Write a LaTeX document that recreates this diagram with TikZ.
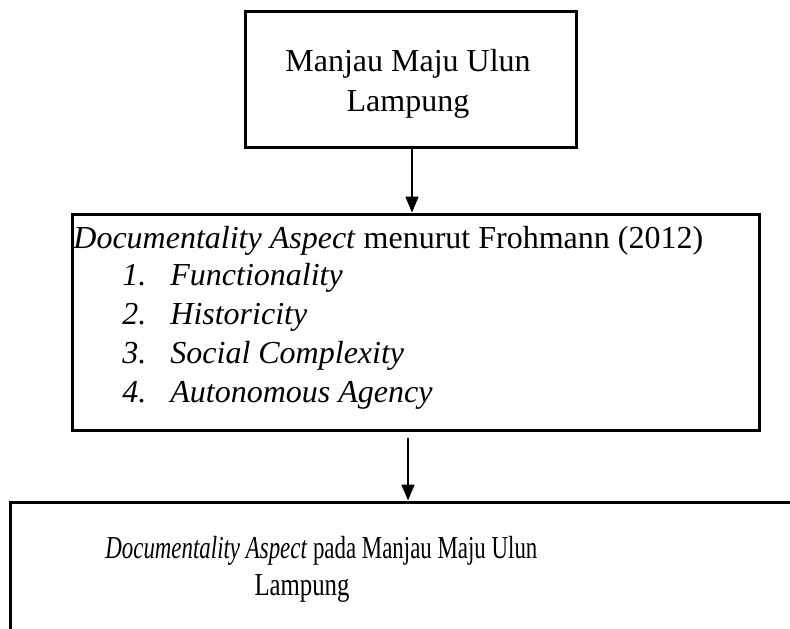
\documentclass[tikz,border=0pt]{standalone}
\usepackage{fontspec}
\usepackage{graphicx}
\setmainfont{Liberation Serif}
\usetikzlibrary{arrows.meta}
\tikzset{
  box/.style={draw, line width=1.5pt, rectangle, inner sep=0pt},
  arr/.style={line width=0.8pt, -{Triangle[width=6.5pt,length=8pt]}},
  txt/.style={inner sep=0pt, font=\fontsize{16}{19}\selectfont},
}
\begin{document}
\begin{tikzpicture}[x=0.5pt,y=-0.5pt]
\useasboundingbox (0,0) rectangle (790,628);
\clip (0,0) rectangle (790,628);
% boxes
\node[box, minimum width=165.5pt, minimum height=68pt] (b1) at (410.5,79) {};
\node[box, minimum width=343.5pt, minimum height=108pt] (b2) at (415.5,322) {};
\node[box, minimum width=445pt, minimum height=99pt] (b3) at (455,601) {};
% texts box 1
\node[txt, anchor=base] (t1a) at (408,71) {Manjau Maju Ulun};
\node[txt, anchor=base] (t1b) at (408,111) {Lampung};
% texts box 2
\node[txt, anchor=base west] (t2) at (73,248) {\textit{Documentality Aspect} menurut Frohmann (2012)};
\node[txt, anchor=base west] (n1) at (122,285) {\textit{1.}};
\node[txt, anchor=base west] (i1) at (170,285) {\textit{Functionality}};
\node[txt, anchor=base west] (n2) at (122,324) {\textit{2.}};
\node[txt, anchor=base west] (i2) at (170,324) {\textit{Historicity}};
\node[txt, anchor=base west] (n3) at (122,363) {\textit{3.}};
\node[txt, anchor=base west] (i3) at (170,363) {\textit{Social Complexity}};
\node[txt, anchor=base west] (n4) at (122,402) {\textit{4.}};
\node[txt, anchor=base west] (i4) at (170,402) {\textit{Autonomous Agency}};
% texts box 3
\node[txt, anchor=base west] (t3a) at (105,558) {\resizebox{216pt}{\height}{\textit{Documentality Aspect} pada Manjau Maju Ulun}};
\node[txt, anchor=base] (t3b) at (302,595) {\resizebox{47.5pt}{\height}{Lampung}};
% connectors
\coordinate (a1s) at (b1.south -| 412,0);
\coordinate (a2s) at ([yshift=-3pt]b2.south -| 408,0);
\draw[arr] (a1s) -- (a1s |- b2.north);
\draw[arr] (a2s) -- (a2s |- b3.north);
\end{tikzpicture}
\end{document}
